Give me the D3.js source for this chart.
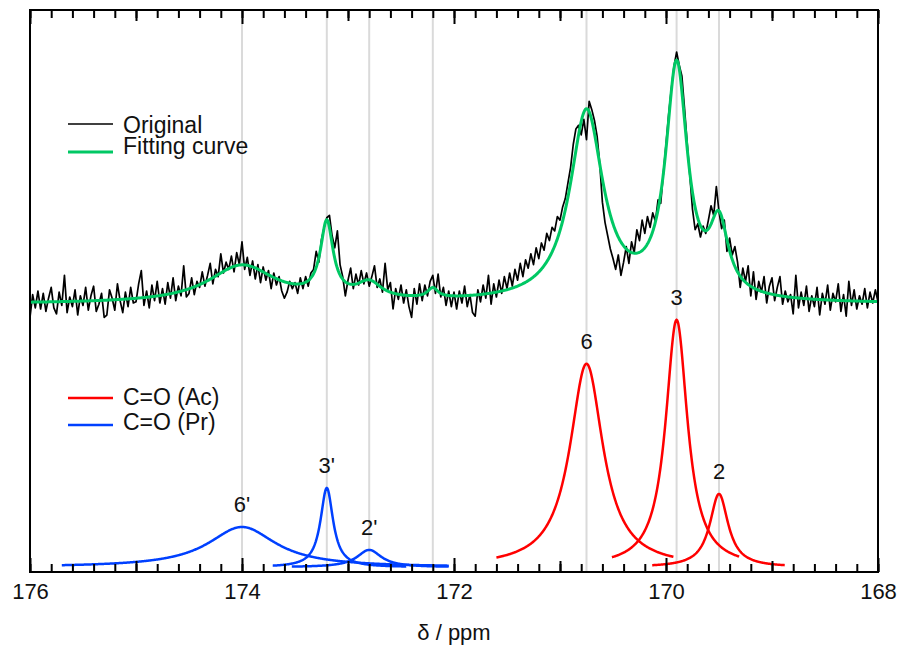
<!DOCTYPE html>
<html>
<head>
<meta charset="utf-8">
<script src="https://cdn.jsdelivr.net/npm/d3@7"></script>
<style>
  body { margin: 0; background: #fff; }
  svg { font-family: "Liberation Sans", Arial, sans-serif; }
</style>
</head>
<body>
<svg id="chart"></svg>
<script>
// Original spectrum, sampled from 176 ppm downwards every 0.025 ppm
const shiftStart = 176;
const shiftStep = 0.025;
const originalIntensity = [
    104.0, 113.5, 108.0, 115.0, 107.5, 114.0, 106.5, 112.0, 116.5, 108.0, 105.5, 114.5, 109.0, 121.5, 106.0, 112.5, 108.5, 115.5, 105.0, 113.0,
    109.0, 116.5, 107.0, 113.0, 117.0, 106.5, 109.5, 114.0, 104.0, 105.0, 115.5, 112.0, 107.0, 118.0, 111.0, 106.0, 114.5, 108.5, 116.5, 110.0,
    110.5, 118.0, 123.5, 109.0, 115.0, 108.0, 117.5, 111.0, 119.0, 110.0, 116.0, 109.5, 118.5, 112.0, 120.5, 111.0, 117.0, 113.0, 125.5, 112.5,
    114.0, 120.5, 113.5, 119.0, 116.5, 123.0, 117.0, 121.5, 126.5, 118.0, 124.0, 121.0, 130.5, 122.5, 127.0, 124.0, 129.5, 123.0, 131.0, 126.0,
    135.5, 124.0, 129.0, 121.5, 127.5, 120.0, 126.0, 118.5, 125.0, 119.5, 123.5, 116.0, 122.5, 117.5, 121.0, 115.0, 112.0, 114.5, 119.0, 116.0,
    118.5, 114.0, 120.5, 116.0, 121.0, 117.0, 122.5, 124.0, 131.5, 127.0, 136.5, 141.5, 145.5, 146.5, 138.0, 133.0, 140.0, 126.0, 121.0, 113.0,
    119.5, 124.5, 116.0, 122.0, 117.5, 123.5, 118.0, 122.5, 117.0, 121.0, 125.5, 116.5, 120.0, 114.5, 126.5, 115.5, 118.5, 107.5, 116.0, 111.5,
    117.5, 110.0, 115.5, 108.5, 104.0, 116.0, 109.5, 118.0, 111.0, 117.5, 113.0, 119.0, 121.5, 114.0, 122.0, 112.5, 116.5, 109.0, 115.0, 108.5,
    114.5, 107.5, 115.0, 110.0, 117.0, 108.5, 113.5, 106.0, 104.5, 115.5, 110.5, 117.5, 112.0, 121.5, 109.5, 118.0, 112.5, 119.5, 114.0, 121.0,
    116.0, 122.5, 117.0, 124.0, 119.5, 126.5, 121.0, 128.0, 124.5, 130.5, 126.0, 133.0, 128.5, 135.0, 132.0, 139.0, 136.0, 141.5, 140.0, 146.0,
    144.5, 150.0, 153.5, 160.0, 166.5, 176.0, 182.5, 184.0, 180.0, 186.5, 178.0, 194.0, 190.5, 186.0, 179.5, 168.0, 152.0, 143.5, 138.0, 132.5,
    128.5, 124.0, 130.0, 121.5, 127.0, 133.5, 126.5, 135.5, 131.0, 140.5, 136.0, 144.5, 139.0, 146.0, 141.5, 147.5, 144.0, 153.0, 151.5, 164.0,
    176.0, 188.5, 199.0, 208.5, 214.5, 209.0, 204.5, 191.0, 176.5, 163.0, 149.0, 140.5, 143.0, 137.5, 142.0, 139.0, 144.5, 150.5, 146.5, 158.5,
    148.0, 141.0, 144.5, 131.5, 137.0, 130.0, 133.5, 127.0, 116.5, 124.5, 119.0, 125.5, 113.0, 123.0, 111.5, 119.0, 114.5, 121.0, 110.0, 117.0,
    120.5, 111.0, 116.5, 121.0, 109.5, 115.0, 110.5, 113.5, 105.5, 121.5, 108.0, 114.5, 109.0, 117.0, 106.5, 113.0, 108.5, 116.5, 105.0, 114.0,
    109.5, 117.5, 107.0, 114.0, 110.5, 118.0, 106.5, 113.5, 104.5, 119.0, 109.0, 115.5, 107.5, 113.0, 109.5, 116.0, 108.0, 114.5, 110.0, 115.5,
    110.5
];

// Fitted Lorentzian peaks (the last one is only part of the fitting curve)
const peakLabels = ['6', '3', '2', "6'", "3'", "2'", ''];
const peakGroups = ['Ac', 'Ac', 'Ac', 'Pr', 'Pr', 'Pr', null];
const peakCenters = [170.75, 169.9, 169.5, 174.0, 173.2, 172.8, 172.2];
const peakHeights = [84.7, 103, 30.5, 16.75, 33, 7.2, 4.3];
const peakWidths = [0.19, 0.125, 0.105, 0.39, 0.072, 0.14, 0.06]; // half width at half height
const peakFrom = [171.6, 170.51, 170.13, 175.7, 173.71, 173.53, null];
const peakTo = [169.93, 169.31, 168.88, 172.05, 172.45, 172.05, null];
const fitBaseline = 109.6;
const fitScale = 0.93;

const xTickLabels = [176, 174, 172, 170, 168];

const config = {
    width: 900,
    height: 652,
    margin: { top: 10, right: 22, bottom: 80, left: 30 },
    colors: { Ac: '#ff0000', Pr: '#0040ff', original: '#000000', fit: '#00c864' }
};

const innerWidth = config.width - config.margin.left - config.margin.right;
const innerHeight = config.height - config.margin.top - config.margin.bottom;

const svg = d3.select('#chart')
    .attr('width', config.width)
    .attr('height', config.height);

const chart = svg.append('g')
    .attr('transform', `translate(${config.margin.left},${config.margin.top})`);

const x = d3.scaleLinear().domain([176, 168]).range([0, innerWidth]);
const y = d3.scaleLinear().domain([-2, 232]).range([innerHeight, 0]);

const lorentz = (d, i) => peakHeights[i] / (1 + Math.pow((d - peakCenters[i]) / peakWidths[i], 2));

// --------- grid lines at the peak positions ---------
chart.selectAll('.peak-line')
    .data(peakCenters)
    .join('line')
    .attr('class', 'peak-line')
    .attr('x1', d => x(d))
    .attr('x2', d => x(d))
    .attr('y1', 0)
    .attr('y2', innerHeight)
    .attr('stroke', '#dadada')
    .attr('stroke-width', 2);

// --------- original spectrum ---------
const originalPoints = originalIntensity.map((v, i) => [shiftStart - i * shiftStep, v]);

const line = d3.line()
    .x(d => x(d[0]))
    .y(d => y(d[1]));

chart.append('path')
    .datum(originalPoints)
    .attr('d', line)
    .attr('fill', 'none')
    .attr('stroke', config.colors.original)
    .attr('stroke-width', 1.7)
    .attr('stroke-linejoin', 'round');

// --------- fitting curve ---------
const fine = d3.range(176, 167.999, -0.005);
const fitPoints = fine.map(d => [d, fitBaseline + fitScale * d3.sum(peakCenters, (c, i) => lorentz(d, i))]);

chart.append('path')
    .datum(fitPoints)
    .attr('d', line)
    .attr('fill', 'none')
    .attr('stroke', config.colors.fit)
    .attr('stroke-width', 3);

// --------- component peaks ---------
const components = peakLabels
    .map((label, i) => ({ label, i, group: peakGroups[i] }))
    .filter(p => p.group !== null);

chart.selectAll('.component')
    .data(components)
    .join('path')
    .attr('class', 'component')
    .attr('d', p => line(d3.range(peakFrom[p.i], peakTo[p.i] - 0.0001, -0.005).map(d => [d, lorentz(d, p.i)])))
    .attr('fill', 'none')
    .attr('stroke', p => config.colors[p.group])
    .attr('stroke-width', 2.5);

chart.selectAll('.component-label')
    .data(components)
    .join('text')
    .attr('class', 'component-label')
    .attr('x', p => x(peakCenters[p.i]))
    .attr('y', p => y(peakHeights[p.i]) - 15)
    .attr('text-anchor', 'middle')
    .attr('font-size', 22)
    .attr('fill', '#111')
    .text(p => p.label);

// --------- axes ---------
const minorTicks = d3.range(176, 167.9, -0.2).map(d => +d.toFixed(1));
const unitTicks = d3.range(175, 168, -2);

// tick marks only, pointing into the plot
const addTicks = (axisGen, values, size, yPos) => {
    const g = chart.append('g')
        .attr('transform', `translate(0,${yPos})`)
        .call(axisGen(x).tickValues(values).tickSize(size));
    g.select('.domain').remove();
    g.selectAll('text').remove();
    g.selectAll('line').attr('stroke', '#000').attr('stroke-width', 2);
    return g;
};

addTicks(d3.axisBottom, minorTicks, -8, innerHeight);
addTicks(d3.axisBottom, unitTicks, -11, innerHeight);
addTicks(d3.axisTop, minorTicks, -8, 0);
addTicks(d3.axisTop, unitTicks, -11, 0);
addTicks(d3.axisTop, xTickLabels, -14, 0);

const bottomAxis = chart.append('g')
    .attr('transform', `translate(0,${innerHeight})`)
    .call(d3.axisBottom(x).tickValues(xTickLabels).tickSize(-14).tickPadding(11).tickFormat(d3.format('d')));
bottomAxis.select('.domain').remove();
bottomAxis.selectAll('line').attr('stroke', '#000').attr('stroke-width', 2);
bottomAxis.selectAll('text')
    .attr('font-size', 22)
    .attr('font-family', '"Liberation Sans", Arial, sans-serif')
    .attr('fill', '#111');

chart.append('rect')
    .attr('x', 0)
    .attr('y', 0)
    .attr('width', innerWidth)
    .attr('height', innerHeight)
    .attr('fill', 'none')
    .attr('stroke', '#000')
    .attr('stroke-width', 2);

svg.append('text')
    .attr('x', config.margin.left + innerWidth / 2)
    .attr('y', 640)
    .attr('text-anchor', 'middle')
    .attr('font-size', 22)
    .attr('fill', '#111')
    .text('δ / ppm');

// --------- legends ---------
const legends = [
    { label: 'Original', color: config.colors.original, width: 1.5, lineY: 124, textY: 133 },
    { label: 'Fitting curve', color: config.colors.fit, width: 3, lineY: 152, textY: 154 },
    { label: 'C=O (Ac)', color: config.colors.Ac, width: 2.5, lineY: 398, textY: 405 },
    { label: 'C=O (Pr)', color: config.colors.Pr, width: 2.5, lineY: 425, textY: 430 }
];

const legend = svg.selectAll('.legend')
    .data(legends)
    .join('g')
    .attr('class', 'legend');

legend.append('line')
    .attr('x1', 68)
    .attr('x2', 113)
    .attr('y1', d => d.lineY)
    .attr('y2', d => d.lineY)
    .attr('stroke', d => d.color)
    .attr('stroke-width', d => d.width);

legend.append('text')
    .attr('x', 123)
    .attr('y', d => d.textY)
    .attr('font-size', 23)
    .attr('fill', '#111')
    .text(d => d.label);
</script>
</body>
</html>
